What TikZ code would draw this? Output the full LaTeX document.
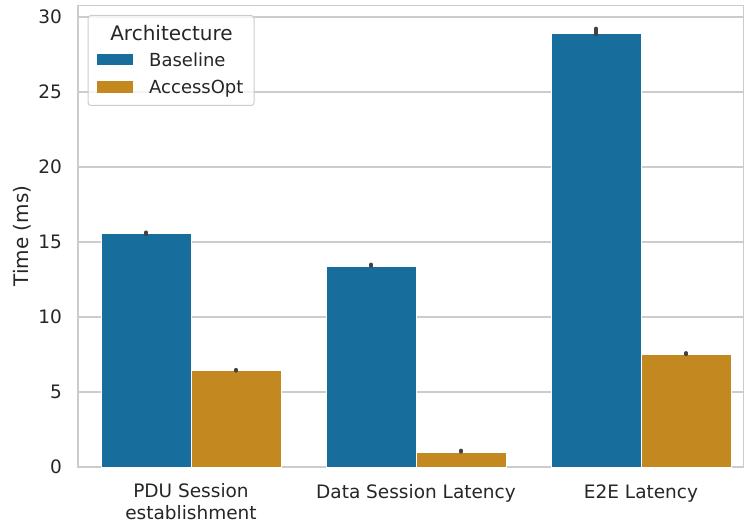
\documentclass[tikz,border=0pt]{standalone}
\usepackage{fontspec}
\setmainfont{DejaVu Sans}
\usepackage{xcolor}

\definecolor{baseblue}{HTML}{176D9C}
\definecolor{optorange}{HTML}{C3881F}
\definecolor{gridgray}{HTML}{CCCCCC}
\definecolor{errgray}{HTML}{424242}
\definecolor{textgray}{HTML}{262626}

\begin{document}
\begin{tikzpicture}[x=1pt,y=1pt,
  gridline/.style={gridgray, line width=1.3pt},
  barbox/.style={draw=white, line width=0.8pt},
  errbar/.style={draw=errgray, line width=3.2pt, line cap=round},
  ticklabel/.style={text=textgray, inner sep=0pt, font=\fontsize{18.5}{21.5}\selectfont},
  legendtext/.style={text=textgray, inner sep=0pt, font=\fontsize{18}{21.5}\selectfont}]
\useasboundingbox (0,0) rectangle (744,525);

% Axes in data units: category step 225px, 15px per ms
\begin{scope}[shift={(191,58)}, x=225pt, y=15pt]
\foreach \v in {5,10,...,30}
  \draw[gridline] (-0.502,\v) -- (2.455,\v);
\draw[gridline] (-0.502,0) rectangle (2.455,30.77);

% Bars (Baseline left, AccessOpt right)
\draw[barbox, fill=baseblue] (-0.4,0) rectangle (0,15.55);
\draw[barbox, fill=optorange] (0,0) rectangle (0.4,6.42);
\draw[barbox, fill=baseblue] (0.6,0) rectangle (1,13.35);
\draw[barbox, fill=optorange] (1,0) rectangle (1.4,1.0);
\draw[barbox, fill=baseblue] (1.6,0) rectangle (2,28.92);
\draw[barbox, fill=optorange] (2,0) rectangle (2.4,7.5);

% Error bars
\draw[errbar] (-0.2,15.5) -- (-0.2,15.66);
\draw[errbar] (0.2,6.4) -- (0.2,6.5);
\draw[errbar] (0.8,13.38) -- (0.8,13.52);
\draw[errbar] (1.2,1.0) -- (1.2,1.12);
\draw[errbar] (1.8,28.82) -- (1.8,29.25);
\draw[errbar] (2.2,7.5) -- (2.2,7.62);
\end{scope}

% Y ticks and label
\foreach \v in {0,5,...,30}
  \node[ticklabel, anchor=east] (ytick\v) at (62,{58+15*\v}) {\v};
\node[ticklabel, rotate=90, font=\fontsize{20}{24}\selectfont] (ylabel) at (22,289) {Time (ms)};

% X tick labels
\node[ticklabel, anchor=base, align=center] (xpdu) at (191,5.7) {PDU Session\\establishment};
\node[ticklabel, anchor=base] (xdata) at (416,27) {Data Session Latency};
\node[ticklabel, anchor=base] (xe2e) at (641,27) {E2E Latency};

% Legend
\draw[gridgray, line width=1pt, rounded corners=3pt, fill=white, fill opacity=0.8] (88,509.5) rectangle (254,419.5);
\node[legendtext, font=\fontsize{20}{24}\selectfont] (legtitle) at (171.5,492) {Architecture};
\fill[baseblue] (97,471) rectangle (133,460);
\fill[optorange] (97,444) rectangle (133,432);
\node[legendtext, anchor=base west] (legbase) at (149,458.5) {Baseline};
\node[legendtext, anchor=base west] (legopt) at (149,431) {AccessOpt};
\end{tikzpicture}
\end{document}
